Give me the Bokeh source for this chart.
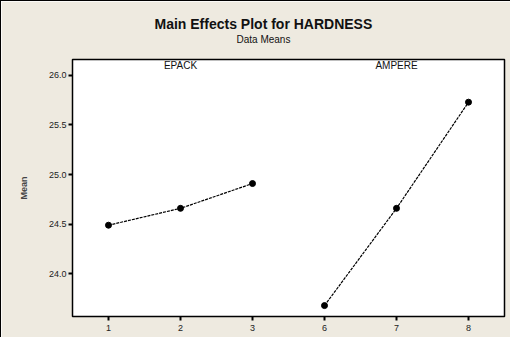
from bokeh.plotting import figure
from bokeh.models import FactorRange, Range1d, Title, FixedTicker, ColumnDataSource, NumeralTickFormatter
from bokeh.core.properties import value
from bokeh.embed import file_html
from bokeh.resources import INLINE

# ---- data ----
epack_levels = ["1", "2", "3"]
epack_means = [24.49, 24.66, 24.91]
ampere_levels = ["6", "7", "8"]
ampere_means = [23.68, 24.66, 25.73]
panel_names = ["EPACK", "AMPERE"]
y_ticks = [24.0, 24.5, 25.0, 25.5, 26.0]
title_text = "Main Effects Plot for HARDNESS"
subtitle_text = "Data Means"

factors = epack_levels + ampere_levels
BG = "#EEEAE0"
FONT = "Liberation Sans"

W, H = 510, 337
Y0, Y1 = 23.57, 26.16

p = figure(width=W, height=H, x_range=FactorRange(*factors, range_padding=0),
           y_range=Range1d(Y0, Y1), output_backend="svg", toolbar_location=None,
           min_border_left=71, min_border_right=7, min_border_bottom=22, min_border_top=0,
           background_fill_color="white", border_fill_color=BG,
           styles={"border-left": "1px solid black", "border-top": "1px solid black"})

p.outline_line_color = "black"
p.outline_line_width = 1.5
p.xgrid.visible = False
p.ygrid.visible = False
p.title.text = ""

# stacked from the frame outward: spacer, subtitle, main title, top spacer
p.add_layout(Title(text=".", text_font_size="2px", text_color=BG, standoff=12), "above")
p.add_layout(Title(text=subtitle_text, align="left", offset=164, text_font=FONT,
                   text_font_size="10px", text_font_style="normal", text_color="#111111",
                   standoff=0), "above")
p.add_layout(Title(text=title_text, align="left", offset=82, text_font=FONT,
                   text_font_size="14px", text_font_style="bold", text_color="#111111",
                   standoff=0), "above")
p.add_layout(Title(text=".", text_font_size="2px", text_color=BG, standoff=9), "above")

for levels, means in [(epack_levels, epack_means), (ampere_levels, ampere_means)]:
    src = ColumnDataSource(dict(x=levels, y=means))
    p.line("x", "y", source=src, line_color="black", line_width=1.2, line_dash="3 1")
    p.scatter("x", "y", source=src, size=6, color="black")

# panel labels above the middle level of each factor
lab_x = [epack_levels[len(epack_levels) // 2], ampere_levels[len(ampere_levels) // 2]]
p.text(x=lab_x, y=[26.10] * 2, text=panel_names, text_align="center",
       text_baseline="middle", text_font=value(FONT), text_font_size="10px", text_color="#111111")

p.yaxis.ticker = FixedTicker(ticks=y_ticks)
p.yaxis.formatter = NumeralTickFormatter(format="0.0")
p.yaxis.axis_label = "Mean"
p.yaxis.axis_label_text_font = FONT
p.yaxis.axis_label_text_font_size = "9px"
p.yaxis.axis_label_text_font_style = "bold"
p.yaxis.axis_label_standoff = 17

for ax in (p.xaxis[0], p.yaxis[0]):
    ax.axis_line_color = None
    ax.major_tick_line_color = "black"
    ax.major_tick_line_width = 2
    ax.major_tick_in = 0
    ax.major_tick_out = 4
    ax.minor_tick_line_color = None
    ax.major_label_text_font = FONT
    ax.major_label_text_font_size = "9px"
    ax.major_label_text_color = "#222222"
    ax.major_label_standoff = 4
p.yaxis.major_label_standoff = 2

open("out.html", "w").write(file_html(p, INLINE))
